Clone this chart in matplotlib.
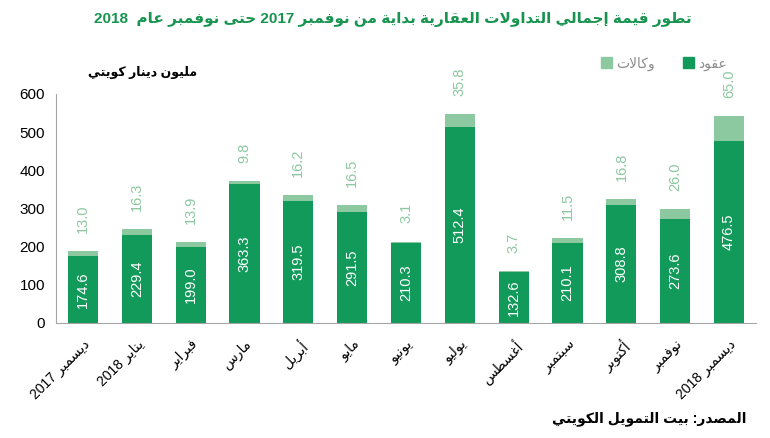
import matplotlib
matplotlib.use("Agg")
import matplotlib.pyplot as plt
from matplotlib.patches import Patch

plt.rcParams['font.family'] = ['Liberation Sans', 'DejaVu Sans']

# data
months = ['ديسمبر 2017', 'يناير 2018', 'فبراير', 'مارس', 'أبريل', 'مايو', 'يونيو',
          'يوليو', 'أغسطس', 'سبتمبر', 'أكتوبر', 'نوفمبر', 'ديسمبر 2018']
contracts = [174.6, 229.4, 199.0, 363.3, 319.5, 291.5, 210.3, 512.4, 132.6, 210.1, 308.8, 273.6, 476.5]
agencies = [13.0, 16.3, 13.9, 9.8, 16.2, 16.5, 3.1, 35.8, 3.7, 11.5, 16.8, 26.0, 65.0]

title = 'تطور قيمة إجمالي التداولات العقارية بداية من نوفمبر 2017 حتى نوفمبر عام  2018'
unit_label = 'مليون دينار كويتي'
source = 'المصدر: بيت التمويل الكويتي'
legend_labels = ['عقود', 'وكالات']

dark = '#129A5B'
light = '#8CC8A0'
green_title = '#17944F'

# minimal arabic shaping (presentation forms) + right-to-left ordering
BASE = {'ء': 0xFE80, 'آ': 0xFE81, 'أ': 0xFE83, 'ؤ': 0xFE85, 'إ': 0xFE87, 'ئ': 0xFE89,
        'ا': 0xFE8D, 'ب': 0xFE8F, 'ة': 0xFE93, 'ت': 0xFE95, 'ث': 0xFE99, 'ج': 0xFE9D,
        'ح': 0xFEA1, 'خ': 0xFEA5, 'د': 0xFEA9, 'ذ': 0xFEAB, 'ر': 0xFEAD, 'ز': 0xFEAF,
        'س': 0xFEB1, 'ش': 0xFEB5, 'ص': 0xFEB9, 'ض': 0xFEBD, 'ط': 0xFEC1, 'ظ': 0xFEC5,
        'ع': 0xFEC9, 'غ': 0xFECD, 'ف': 0xFED1, 'ق': 0xFED5, 'ك': 0xFED9, 'ل': 0xFEDD,
        'م': 0xFEE1, 'ن': 0xFEE5, 'ه': 0xFEE9, 'و': 0xFEED, 'ى': 0xFEEF, 'ي': 0xFEF1}
DUAL = set('ئبتثجحخسشصضطظعغفقكلمنهي')
LAMALEF = {'آ': 0xFEF5, 'أ': 0xFEF7, 'إ': 0xFEF9, 'ا': 0xFEFB}


def shape_word(w):
    units = []
    i = 0
    while i < len(w):
        c = w[i]
        if c == 'ل' and i + 1 < len(w) and w[i + 1] in LAMALEF:
            units.append((LAMALEF[w[i + 1]], False, True))
            i += 2
            continue
        if c in BASE:
            units.append((BASE[c], c in DUAL, c != 'ء'))
        else:
            units.append((c, False, False))
        i += 1
    out = []
    for k, (code, dual, joins) in enumerate(units):
        if isinstance(code, str):
            out.append(code)
            continue
        prev = k > 0 and units[k - 1][1] and joins
        nxt = dual and k + 1 < len(units) and units[k + 1][2]
        if prev and nxt:
            idx = 3
        elif nxt:
            idx = 2
        elif prev:
            idx = 1
        else:
            idx = 0
        out.append(chr(code + idx))
    return ''.join(out)


def ar(text):
    parts = []
    for tok in text.split(' '):
        if any(ch in BASE for ch in tok):
            parts.append(shape_word(tok)[::-1])
        else:
            parts.append(tok)
    return ' '.join(parts[::-1])


fig = plt.figure(figsize=(7.7, 4.38), dpi=100)
ax = fig.add_axes([56 / 770, 1 - 323 / 438, 700 / 770, (323 - 94) / 438])

x = list(range(len(months)))
totals = [c + a for c, a in zip(contracts, agencies)]
ax.bar(x, contracts, width=0.56, color=dark)
ax.bar(x, agencies, width=0.56, bottom=contracts, color=light)

for i in x:
    ax.text(i, contracts[i] / 2, f'{contracts[i]:.1f}', rotation=90, ha='center', va='center',
            color='white', fontsize=10.5)
    ax.annotate(f'{agencies[i]:.1f}', (i, totals[i]), xytext=(0, 13), textcoords='offset points',
                rotation=90, ha='center', va='bottom', color=light, fontsize=10.5)

ax.set_xlim(-0.5, len(months) - 0.5)
ax.set_ylim(0, 600)
ax.set_yticks(range(0, 601, 100))
ax.tick_params(axis='y', length=0, labelsize=11, pad=8)
ax.tick_params(axis='x', length=0, pad=10)
ax.set_xticks(x)
ax.set_xticklabels([ar(m) for m in months], rotation=45, ha='right', rotation_mode='anchor',
                   fontsize=10)
for s in ['top', 'right']:
    ax.spines[s].set_visible(False)
for s in ['left', 'bottom']:
    ax.spines[s].set_color('#A6A6A6')

fig.text(0.51, 0.955, ar(title), ha='center', va='center', color=green_title,
         fontsize=11, fontweight='bold')
fig.text(0.185, 0.835, ar(unit_label), ha='center', va='center', fontsize=9, fontweight='bold')
fig.text(0.97, 0.045, ar(source), ha='right', va='center', fontsize=10, fontweight='bold')

handles = [Patch(color=light), Patch(color=dark)]
leg = fig.legend(handles, [ar(legend_labels[1]), ar(legend_labels[0])], ncol=2, frameon=False,
                 loc='center right', bbox_to_anchor=(0.96, 0.855), fontsize=10,
                 handlelength=0.8, handleheight=0.8, handletextpad=0.3, columnspacing=2.0,
                 labelcolor='#8C8C8C')

fig.savefig('out.png', dpi=100)
